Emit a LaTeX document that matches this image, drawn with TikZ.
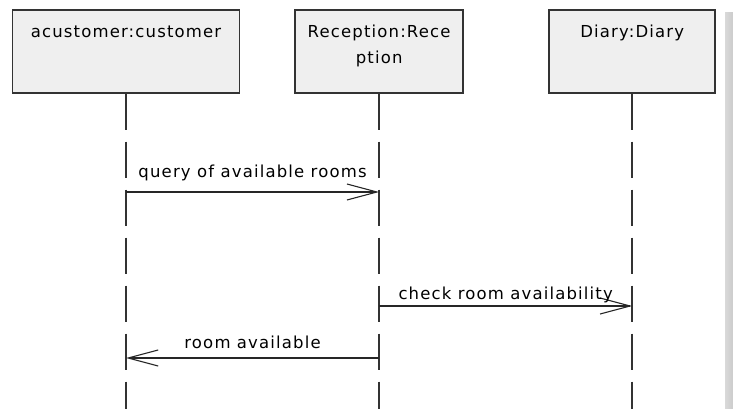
\documentclass[tikz,border=0pt]{standalone}
\usepackage{fontspec}
\setmainfont{DejaVu Sans}[LetterSpace=7]
\usetikzlibrary{arrows.meta,positioning}
\definecolor{boxfill}{HTML}{EFEFEF}
\definecolor{boxline}{HTML}{333333}

\begin{document}
\begin{tikzpicture}[
  x=1pt, y=1pt,
  font=\fontsize{16.5}{26}\selectfont,
  obj/.style={draw=boxline, line width=1.6pt, fill=boxfill, align=center, anchor=north,
    inner xsep=0pt, inner ysep=0pt, text height=28pt, text depth=55pt},
  life/.style={draw=boxline, line width=1.5pt, dash pattern=on 36pt off 12pt},
  msg/.style={draw=black!85, line width=1.4pt,
    -{Straight Barb[length=30pt, width=16pt, line width=1.1pt]}},
  msgtext/.style={anchor=base, inner sep=0pt}
]
  \useasboundingbox (0,0) rectangle (733,-409);
  \shade[left color=black!15, middle color=black!50, right color=black!20] (725,-13) rectangle (733,-409);

  \node[obj, minimum width=227pt] (cust) at (126,-9) {acustomer:customer};
  \node[obj, minimum width=168pt, text height=54pt, text depth=29pt, right=54pt of cust] (recept) {Reception:Rece\\ption};
  \node[obj, minimum width=166pt, right=84.5pt of recept] (diary) {Diary:Diary};

  \coordinate (bot) at (0,-409);
  \coordinate (m1) at (0,-192);
  \coordinate (m2) at (0,-306);
  \coordinate (m3) at (0,-358);

  \draw[life] (cust.south) -- (cust.south |- bot);
  \draw[life] (recept.south) -- (recept.south |- bot);
  \draw[life] (diary.south) -- (diary.south |- bot);

  \draw[msg] (cust.south |- m1) -- node[msgtext, yshift=15pt] (q1) {query of available rooms} (recept.south |- m1);
  \draw[msg] (recept.south |- m2) -- node[msgtext, yshift=7pt] (q2) {check room availability} (diary.south |- m2);
  \draw[msg] (recept.south |- m3) -- node[msgtext, yshift=10pt] (q3) {room available} (cust.south |- m3);
\end{tikzpicture}
\end{document}
